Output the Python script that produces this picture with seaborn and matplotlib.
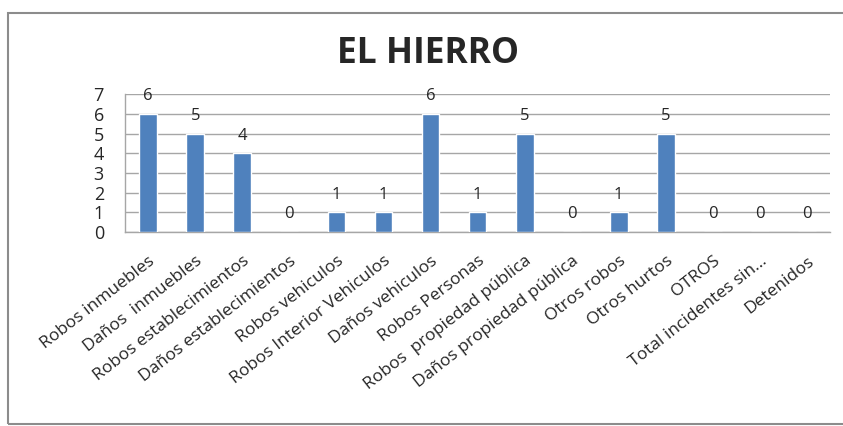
import numpy as np
import pandas as pd
import seaborn as sns
import matplotlib.pyplot as plt
from matplotlib.patches import Rectangle

# ── Data ──────────────────────────────────────────────────────────────────────
categories = [
    "Robos inmuebles", "Daños  inmuebles", "Robos establecimientos",
    "Daños establecimientos", "Robos vehiculos", "Robos Interior Vehiculos",
    "Daños vehiculos", "Robos Personas", "Robos  propiedad pública",
    "Daños propiedad pública", "Otros robos", "Otros hurtos", "OTROS",
    "Total incidentes sin...", "Detenidos",
]
values = [6, 5, 4, 0, 1, 1, 6, 1, 5, 0, 1, 5, 0, 0, 0]
y_ticks = [0, 1, 2, 3, 4, 5, 6, 7]

BAR_COLOR  = "#4F81BD"
GRID_COLOR = "#A6A6A6"
FONT       = ["Open Sans", "DejaVu Sans"]

df = pd.DataFrame({"categoria": categories, "valor": values})

# ── Plot ──────────────────────────────────────────────────────────────────────
sns.set_style("white")
plt.rcParams["font.family"] = FONT

fig = plt.figure(figsize=(8.43, 4.26), dpi=100)
ax = fig.add_axes([0.148, 0.455, 0.837, 0.324])

sns.barplot(data=df, x="categoria", y="valor", color=BAR_COLOR,
            width=0.38, saturation=1, ax=ax, zorder=3)

for i, v in enumerate(values):
    ax.text(i, v + 0.9, str(v), ha="center", va="center",
            fontsize=12, color="#262626", zorder=4)

ax.set_xlim(-0.5, len(categories) - 0.5)
ax.set_ylim(0, 7)
ax.set_yticks(y_ticks)
ax.set_yticklabels([str(t) for t in y_ticks], fontsize=13)
ax.yaxis.grid(True, color=GRID_COLOR, lw=1, zorder=0)

ax.set_xticks(range(len(categories)))
ax.set_xticklabels(categories, rotation=38, ha="right", va="top",
                   rotation_mode="anchor", fontsize=12.5)
ax.set_xticks(np.arange(-0.5, len(categories), 1), minor=True)
ax.tick_params(axis="x", which="major", length=0, pad=15)
ax.tick_params(axis="x", which="minor", length=6, color=GRID_COLOR, width=1)
ax.tick_params(axis="y", length=6, color=GRID_COLOR, width=1, pad=9)

ax.set_xlabel("")
ax.set_ylabel("")
for side in ["top", "right"]:
    ax.spines[side].set_visible(False)
for side in ["left", "bottom"]:
    ax.spines[side].set_color(GRID_COLOR)
    ax.spines[side].set_linewidth(1)

fig.text(0.508, 0.852, "EL HIERRO", ha="center", va="baseline",
         fontsize=25.5, fontweight="bold", family=FONT)

# outer chart frame
fig.patches.append(Rectangle((0.009, 0.004), 1.2, 0.966,
                             transform=fig.transFigure, fill=False,
                             edgecolor="#8C8C8C", lw=1.5))

fig.savefig("out.png", dpi=100)
